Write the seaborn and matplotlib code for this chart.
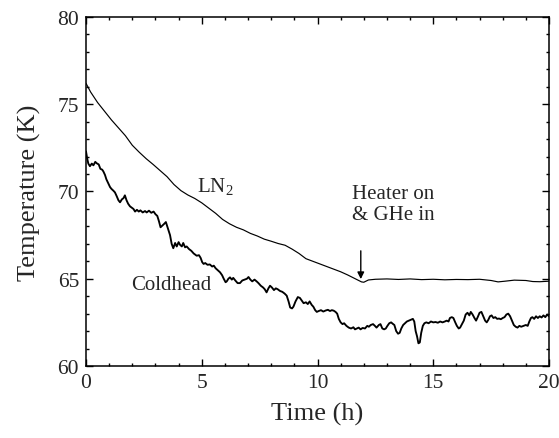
import matplotlib
matplotlib.use("Agg")
import matplotlib.pyplot as plt
import seaborn as sns
import pandas as pd
from matplotlib.ticker import MultipleLocator

# ---- data ----
ln2_time = [0.0, 0.2, 0.5, 0.8, 1.1, 1.4, 1.7, 2.0, 2.3, 2.6, 2.9, 3.2, 3.5, 3.8,
            4.1, 4.4, 4.7, 5.0, 5.3, 5.6, 5.9, 6.2, 6.5, 6.8, 7.1, 7.4, 7.7, 8.0,
            8.3, 8.6, 8.9, 9.2, 9.5, 9.8, 10.1, 10.4, 10.7, 11.0, 11.3, 11.6, 11.9,
            12.0, 12.2, 12.5, 13.0, 13.5, 14.0, 14.5, 15.0, 15.5, 16.0, 16.5, 17.0,
            17.5, 17.8, 18.1, 18.5, 19.0, 19.3, 19.6, 20.0]
ln2_temp = [76.2, 75.7, 75.1, 74.6, 74.1, 73.65, 73.2, 72.65, 72.25, 71.88, 71.55,
            71.2, 70.85, 70.4, 70.05, 69.8, 69.6, 69.35, 69.05, 68.75, 68.4, 68.15,
            67.95, 67.8, 67.6, 67.45, 67.27, 67.15, 67.02, 66.92, 66.7, 66.45, 66.15,
            66.0, 65.85, 65.7, 65.55, 65.4, 65.22, 65.02, 64.82, 64.8, 64.93, 64.97,
            64.99, 64.96, 64.99, 64.95, 64.97, 64.94, 64.96, 64.95, 64.97, 64.9,
            64.82, 64.86, 64.92, 64.9, 64.84, 64.83, 64.86]

cold_time = [0.00, 0.05, 0.10, 0.17, 0.25, 0.32, 0.40, 0.46, 0.55, 0.62, 0.70, 0.75,
             0.82, 0.88, 0.95, 1.04, 1.10, 1.18, 1.25, 1.32, 1.40, 1.47, 1.55, 1.62,
             1.68, 1.75, 1.82, 1.90, 1.97, 2.05, 2.12, 2.20, 2.28, 2.35, 2.45, 2.55,
             2.62, 2.72, 2.82, 2.92, 3.00, 3.08, 3.15, 3.22, 3.30, 3.38, 3.45, 3.52,
             3.58, 3.63, 3.70, 3.77, 3.85, 3.92, 4.00, 4.06, 4.14, 4.20, 4.28, 4.35,
             4.45, 4.55, 4.65, 4.78, 4.88, 4.95, 5.02, 5.08, 5.15, 5.25, 5.35, 5.45,
             5.52, 5.60, 5.68, 5.79, 5.88, 5.95, 6.03, 6.08, 6.15, 6.22, 6.30, 6.36,
             6.45, 6.55, 6.65, 6.75, 6.85, 6.95, 7.02, 7.10, 7.18, 7.28, 7.37, 7.45,
             7.55, 7.65, 7.72, 7.80, 7.88, 7.95, 8.03, 8.12, 8.20, 8.28, 8.38, 8.48,
             8.58, 8.67, 8.75, 8.82, 8.90, 8.96, 9.05, 9.15, 9.24, 9.32, 9.40, 9.50,
             9.58, 9.66, 9.75, 9.82, 9.90, 9.97, 10.05, 10.15, 10.25, 10.35, 10.45,
             10.54, 10.62, 10.70, 10.78, 10.85, 10.92, 11.00, 11.08, 11.15, 11.25,
             11.35, 11.45, 11.55, 11.62, 11.70, 11.78, 11.86, 11.95, 12.05, 12.15,
             12.22, 12.30, 12.40, 12.48, 12.55, 12.65, 12.72, 12.80, 12.88, 12.95,
             13.02, 13.10, 13.18, 13.25, 13.32, 13.40, 13.48, 13.55, 13.62, 13.70,
             13.78, 13.86, 13.95, 14.05, 14.12, 14.18, 14.24, 14.30, 14.36, 14.42,
             14.48, 14.55, 14.62, 14.70, 14.80, 14.90, 15.00, 15.10, 15.20, 15.30,
             15.40, 15.50, 15.58, 15.66, 15.72, 15.80, 15.87, 15.95, 16.02, 16.10,
             16.16, 16.24, 16.32, 16.40, 16.48, 16.56, 16.62, 16.70, 16.78, 16.85,
             16.92, 17.00, 17.08, 17.16, 17.24, 17.31, 17.38, 17.45, 17.52, 17.60,
             17.68, 17.76, 17.84, 17.92, 18.00, 18.08, 18.16, 18.24, 18.32, 18.40,
             18.48, 18.56, 18.64, 18.72, 18.80, 18.90, 19.00, 19.08, 19.15, 19.22,
             19.28, 19.36, 19.44, 19.52, 19.60, 19.68, 19.76, 19.84, 19.92, 20.00]
cold_temp = [72.3, 71.9, 71.6, 71.45, 71.6, 71.5, 71.7, 71.62, 71.55, 71.3, 71.25, 71.15,
             70.95, 70.7, 70.5, 70.25, 70.15, 70.05, 69.95, 69.75, 69.5, 69.38, 69.55, 69.62,
             69.78, 69.5, 69.3, 69.15, 69.08, 69.0, 68.85, 68.95, 68.85, 68.92, 68.8, 68.88,
             68.8, 68.9, 68.78, 68.85, 68.7, 68.6, 68.3, 67.95, 68.05, 68.15, 68.25, 67.95,
             67.7, 67.5, 67.0, 66.75, 67.05, 66.85, 67.1, 66.95, 66.85, 67.05, 66.8, 66.85,
             66.7, 66.6, 66.45, 66.32, 66.35, 66.2, 65.95, 65.85, 65.9, 65.8, 65.82, 65.7,
             65.75, 65.6, 65.5, 65.37, 65.2, 65.0, 64.8, 64.85, 65.0, 65.08, 64.95, 65.05,
             64.9, 64.75, 64.75, 64.9, 64.95, 65.0, 65.1, 64.95, 64.85, 64.95, 64.85, 64.75,
             64.6, 64.5, 64.4, 64.22, 64.45, 64.6, 64.5, 64.35, 64.45, 64.4, 64.3, 64.25,
             64.15, 64.03, 63.7, 63.35, 63.3, 63.4, 63.7, 63.95, 63.9, 63.75, 63.6, 63.65,
             63.55, 63.7, 63.5, 63.4, 63.2, 63.1, 63.15, 63.2, 63.12, 63.18, 63.22,
             63.15, 63.2, 63.17, 63.1, 63.0, 62.7, 62.5, 62.4, 62.45, 62.3,
             62.2, 62.15, 62.22, 62.1, 62.15, 62.2, 62.1, 62.18, 62.15, 62.3,
             62.25, 62.35, 62.4, 62.3, 62.2, 62.35, 62.4, 62.15, 62.1, 62.15,
             62.3, 62.45, 62.5, 62.42, 62.35, 62.0, 61.85, 61.9, 62.15, 62.35,
             62.45, 62.55, 62.6, 62.65, 62.7, 62.55, 62.0, 61.7, 61.3, 61.35,
             61.9, 62.3, 62.45, 62.5, 62.45, 62.55, 62.5, 62.52, 62.48, 62.55,
             62.5, 62.55, 62.6, 62.55, 62.75, 62.8, 62.75, 62.5, 62.3, 62.15,
             62.2, 62.4, 62.6, 62.95, 63.05, 62.9, 63.1, 62.95, 62.75, 62.6,
             62.8, 63.05, 63.1, 62.85, 62.6, 62.5, 62.65, 62.85, 62.9, 62.75,
             62.8, 62.7, 62.72, 62.68, 62.75, 62.8, 62.95, 63.0, 62.85, 62.6,
             62.35, 62.25, 62.2, 62.3, 62.25, 62.3, 62.35, 62.3, 62.55, 62.75,
             62.8, 62.7, 62.85, 62.75, 62.85, 62.78, 62.9, 62.8, 62.95, 62.85]

x_ticks = [0, 5, 10, 15, 20]
y_ticks = [60, 65, 70, 75, 80]

ln2_df = pd.DataFrame({"Time (h)": ln2_time, "Temperature (K)": ln2_temp})
cold_df = pd.DataFrame({"Time (h)": cold_time, "Temperature (K)": cold_temp})

# ---- style ----
sns.set_style("ticks")
plt.rcParams["font.family"] = ["Liberation Serif", "DejaVu Serif"]
plt.rcParams["mathtext.default"] = "regular"

fig = plt.figure(figsize=(5.59, 4.39), dpi=100)
ax = fig.add_axes([86 / 559, 72 / 439, 463 / 559, 349 / 439])

sns.lineplot(data=ln2_df, x="Time (h)", y="Temperature (K)", ax=ax,
             color="black", lw=0.85, estimator=None, sort=False)
sns.lineplot(data=cold_df, x="Time (h)", y="Temperature (K)", ax=ax,
             color="black", lw=1.35, estimator=None, sort=False)

ax.set_xlim(0, 20)
ax.set_ylim(60, 80)
ax.set_xticks(x_ticks)
ax.set_yticks(y_ticks)
ax.xaxis.set_minor_locator(MultipleLocator(1))
ax.yaxis.set_minor_locator(MultipleLocator(1))
ax.tick_params(which="both", direction="in", top=True, right=True,
               color="black", width=1.0)
ax.tick_params(which="major", length=5, labelsize=15.5, pad=5)
ax.tick_params(which="minor", length=2.5)
for s in ax.spines.values():
    s.set_linewidth(1.1)
    s.set_color("black")

ax.set_xlabel("Time (h)", fontsize=19, labelpad=7)
ax.set_ylabel("Temperature (K)", fontsize=19, labelpad=12)

ax.text(4.79, 70.03, "LN$_2$", fontsize=15, ha="left", va="baseline")
ax.text(1.97, 64.41, "Coldhead", fontsize=15, ha="left", va="baseline")
ax.text(11.49, 69.3, "Heater on\n& GHe in", fontsize=15, ha="left",
        va="center", linespacing=1.15)
ax.annotate("", xy=(11.87, 64.98), xytext=(11.87, 66.6),
            arrowprops=dict(arrowstyle="-|>", color="black", lw=1.0,
                            mutation_scale=10, shrinkA=0, shrinkB=0))

fig.savefig("out.png", dpi=100)
